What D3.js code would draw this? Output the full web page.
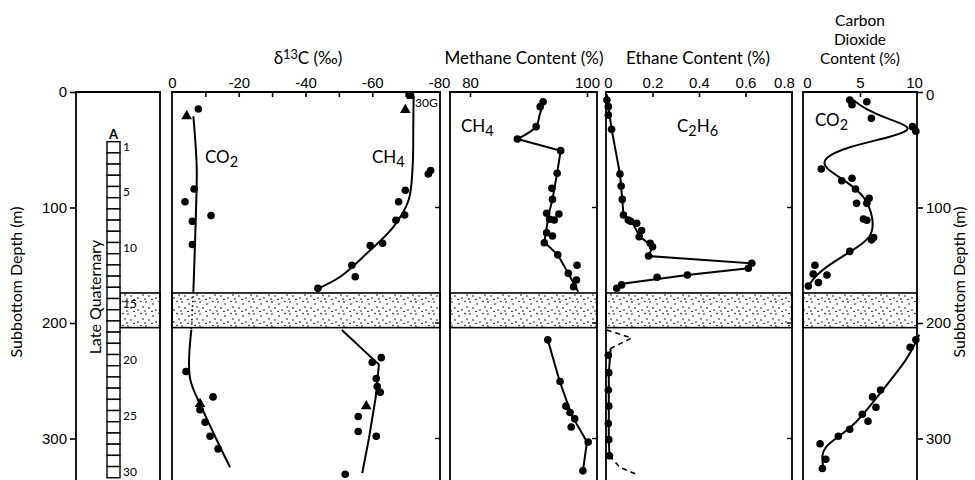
<!DOCTYPE html>
<html lang="en">
<head>
<meta charset="UTF-8">
<title>Subbottom gas profiles</title>
<style>
  body { margin: 0; background: #fff; }
  svg { font-family: "Lato", "DejaVu Sans", sans-serif; }
  .axis path, .axis line { stroke: #000; stroke-width: 1.6; }
  .axis text { font-size: 15px; fill: #000; }
</style>
</head>
<body>
<svg width="975" height="480"></svg>
<script src="https://d3js.org/d3.v7.min.js"></script>
<script>
// ---- data: [depth m, value] ----
// delta 13C of CO2 (permil)
var d13co2Dots = [[14.7,-7.9],[84,-6.6],[95,-3.9],[107,-11.7],[112,-6.1],[132,-6.1],
                  [242,-4.2],[264,-12.3],[275,-8.4],[286,-9.9],[298,-11.4],[309,-13.8]];
var d13co2Tri = [[20.8,-4.4],[270,-8.4]];
var d13co2Upper = [[21,-6.4],[65,-7.4],[102,-7.2],[173,-6.4]];
var d13co2Gap = [[173,-6.4],[206,-5.8]];
var d13co2Lower = [[206,-5.8],[248,-5.4],[275,-9.2],[300,-13.2],[325,-17.4]];
// delta 13C of CH4 (permil)
var d13ch4Dots = [[68,-77.5],[71,-76.8],[85,-69.9],[95,-67.9],[106.5,-69.7],[111,-67.1],
                  [131,-63.1],[133,-59.4],[150,-53.9],[160,-54.9],[170,-43.7],
                  [230,-62.7],[234,-60],[248,-61.2],[255,-61.5],[260,-62.4],[281,-55.8],
                  [294,-55.8],[298,-61.2],[331,-51.9]];
var d13ch4Tri = [[15.6,-69.9],[272,-58.2]];
var d13ch4Square = [[2.6,-71.4]];
var d13ch4Upper = [[3,-72.4],[30,-72.3],[64.6,-72.1],[93.5,-70.9],[116.6,-66.4],[139.7,-58.4],[160,-50.4],[170,-43.9]];
var d13ch4Lower = [[206,-50.9],[236,-62],[265,-61],[300,-59],[330,-57]];
// methane content (%)
var ch4Dots = [[8.4,92.5],[12.7,92],[30,91.3],[40.7,88.1],[50.8,95.5],[70.4,94.9],[83.4,94],
               [93,94.1],[105,93.1],[105.6,95.2],[110.8,94.4],[110.2,93.6],[121.8,93.1],
               [124.7,94.1],[130.5,92.7],[141,95],[150,98.3],[157,96.8],[162.8,98.2],[168.6,97.7],
               [214.6,93.3],[250.6,95.4],[272,96.4],[277.5,97.1],[283,97.9],[290,97.3],[303,100.2],[328,99.3]];
var ch4Upper = [[8,92.6],[20,91.9],[30,91.3],[40.7,88.1],[50.8,95.5],[70,94.9],[93,94.1],[105,93.5],
                [130,92.7],[141,95],[157,96.8],[173,98.5]];
var ch4Lower = [[214.6,93.3],[250,95.3],[280,97.4],[303,100],[328,99.3]];
// ethane content (%)
var c2h6Dots = [[7,0.004],[12.7,0.01],[20,0.01],[32.3,0.024],[71,0.06],[81.4,0.065],[93,0.07],
                [106.5,0.075],[110.8,0.096],[112,0.106],[113.7,0.132],[120,0.153],[125.3,0.143],
                [131,0.19],[134,0.2],[142,0.183],[148.3,0.627],[152.6,0.612],[158.4,0.35],
                [160.4,0.22],[167,0.067],[170,0.046],
                [228,0.01],[243,0.012],[258,0.01],[272,0.012],[287,0.01],[301,0.012],[315,0.015]];
var c2h6Upper = [[2,0.003],[10,0.008],[32,0.024],[71,0.06],[93,0.07],[106,0.075],[112,0.11],
                 [125,0.145],[134,0.2],[142,0.183],[148.3,0.625],[152.6,0.612],[158.4,0.35],
                 [166,0.07],[170,0.04]];
var c2h6DashTop = [[206,0.003],[213,0.11],[222,0.02]];
var c2h6Lower = [[222,0.02],[243,0.012],[272,0.012],[301,0.012],[315,0.015]];
var c2h6DashBottom = [[315,0.015],[325,0.06],[331,0.13]];
// carbon dioxide content (%)
var co2Dots = [[7,4.1],[11,4.3],[8.4,5.6],[22.8,6.0],[30,9.6],[34,9.9],[66.7,1.6],[76.8,3.4],
               [74.7,4.3],[84,4.6],[92,5.8],[96.4,4.7],[96.4,5.6],[110,5.3],[111,5.6],[126,6.2],
               [128,6.0],[138,4.1],[150,1.05],[157.6,0.9],[158.4,2.1],[165,1.35],[168,0.47],
               [214.6,9.9],[221,9.4],[258,6.8],[264,6.1],[273,6.4],[279,5.2],[285,5.7],[292,4.1],
               [298,3.1],[304.5,1.5],[318,2.0],[326,1.7]];
var co2Upper = [[6,4.3],[14,5.3],[24,7.6],[31,9.8],[38,8.2],[48,3.6],[58,1.7],[66,1.9],[76,3.6],
                [90,5.5],[110,6.2],[126,6.1],[138,4.2],[150,2.2],[160,1.0],[169,0.4]];
var co2Lower = [[210,10.2],[230,9.3],[260,6.8],[290,4.5],[305,2.0],[315,1.6],[326,1.8]];

// core sections and stippled band
var coreSections = d3.range(1, 31);
var coreLabels = [1, 5, 10, 15, 20, 25, 30];
var coreTop = 43, coreLen = 9.7;
var band = [174, 204];

// axis ticks
var depthTicks = [0, 100, 200, 300];
var d13Ticks = [0, -10, -20, -30, -40, -50, -60, -70, -80];
var d13Labels = [0, -20, -40, -60, -80];
var ch4Ticks = [80, 100];
var c2h6Ticks = [0, 0.2, 0.4, 0.6, 0.8];
var co2Ticks = [0, 5, 10];

// ---- layout ----
var svg = d3.select('svg');
var top0 = 92, bottom = 482;
var y = d3.scaleLinear().domain([0, 300]).range([top0, 438.5]);

var panels = {
  core: { x0: 76, x1: 160 },
  d13:  { x0: 172, x1: 440, scale: d3.scaleLinear().domain([0, -80]).range([172, 439]) },
  ch4:  { x0: 450, x1: 597, scale: d3.scaleLinear().domain([80, 100]).range([470, 587]) },
  c2h6: { x0: 606, x1: 792, scale: d3.scaleLinear().domain([0, 0.8]).range([606, 792]) },
  co2:  { x0: 803, x1: 917, scale: d3.scaleLinear().domain([0, 10]).range([803, 917]) }
};

// stipple pattern
var defs = svg.append('defs');
var pat = defs.append('pattern').attr('id', 'stip').attr('patternUnits', 'userSpaceOnUse')
  .attr('width', 18).attr('height', 12);
[[2,2],[9,4],[15,1.5],[5,8],[12,10],[17,7],[1,11],[8,11.5]].forEach(function(p) {
  pat.append('circle').attr('cx', p[0]).attr('cy', p[1]).attr('r', 0.8).attr('fill', '#000');
});

// panel boxes + band
Object.keys(panels).forEach(function(k) {
  var p = panels[k];
  var bx0 = k === 'core' ? 120 : p.x0;
  svg.append('rect').attr('x', bx0).attr('y', y(band[0]))
    .attr('width', p.x1 - bx0).attr('height', y(band[1]) - y(band[0]))
    .attr('fill', 'url(#stip)').attr('stroke', '#000').attr('stroke-width', 1.6);
  svg.append('path')
    .attr('d', 'M' + p.x0 + ',' + bottom + 'V' + top0 + 'H' + p.x1 + 'V' + bottom)
    .attr('fill', 'none').attr('stroke', '#000').attr('stroke-width', 1.8);
  if (k !== 'core' && k !== 'co2') {
    depthTicks.slice(1).forEach(function(t) {
      svg.append('line').attr('x1', p.x1 - 5).attr('x2', p.x1)
        .attr('y1', y(t)).attr('y2', y(t)).attr('stroke', '#000').attr('stroke-width', 1.4);
    });
  }
});

// depth axes
svg.append('g').attr('class', 'axis').attr('transform', 'translate(76,0)')
  .call(d3.axisLeft(y).tickValues(depthTicks).tickSize(6).tickPadding(3))
  .call(function(g) { g.select('.domain').remove(); });
svg.append('g').attr('class', 'axis').attr('transform', 'translate(917,0)')
  .call(d3.axisRight(y).tickValues(depthTicks).tickSize(6).tickPadding(3))
  .call(function(g) { g.select('.domain').remove(); g.select('.tick text').attr('dy', '0.5em'); });

// top axes
function topAxis(p, ticks, fmt) {
  return svg.append('g').attr('class', 'axis').attr('transform', 'translate(0,' + top0 + ')')
    .call(d3.axisTop(p.scale).tickValues(ticks).tickSize(-5).tickPadding(4).tickFormat(fmt))
    .call(function(g) { g.select('.domain').remove(); });
}
topAxis(panels.d13, d13Ticks, function(d) { return d13Labels.indexOf(d) >= 0 ? (d === 0 ? '0' : '-' + (-d)) : ''; })
  .selectAll('.tick line').filter(function(d) { return d === 0 || d === -80; }).remove();
topAxis(panels.ch4, ch4Ticks, d3.format('d'));
var ea = topAxis(panels.c2h6, c2h6Ticks, function(d) { return d === 0 ? '0' : String(d); });
ea.selectAll('.tick line').filter(function(d) { return d === 0 || d === 0.8; }).remove();
ea.selectAll('.tick text').filter(function(d) { return d === 0; }).attr('x', 2);
ea.selectAll('.tick text').filter(function(d) { return d === 0.8; }).attr('x', -8);
var ca = topAxis(panels.co2, co2Ticks, d3.format('d'));
ca.selectAll('.tick line').filter(function(d) { return d !== 5; }).remove();
ca.selectAll('.tick text').filter(function(d) { return d === 0; }).attr('x', 4);
ca.selectAll('.tick text').filter(function(d) { return d === 10; }).attr('x', -3);

// titles
var tsz = 17;
function label(x, yy, txt, opts) {
  opts = opts || {};
  var t = svg.append('text').attr('x', x).attr('y', yy).attr('font-size', opts.size || tsz)
    .attr('text-anchor', opts.anchor || 'middle').attr('fill', '#000');
  if (opts.rotate) t.attr('transform', 'rotate(-90,' + x + ',' + yy + ')');
  if (typeof txt === 'string') { t.text(txt); return t; }
  txt.forEach(function(s) {
    var ts = t.append('tspan').text(s[0]);
    if (s[1] === 'sub') ts.attr('baseline-shift', '-30%').attr('font-size', (opts.size || tsz) * 0.85);
    if (s[1] === 'sup') ts.attr('baseline-shift', '40%').attr('font-size', (opts.size || tsz) * 0.75);
  });
  return t;
}
label(308, 64, [['δ'], ['13', 'sup'], ['C (‰)']]);
label(524, 64, 'Methane Content (%)');
label(698, 64, 'Ethane Content (%)');
label(860, 26, 'Carbon', { size: 15.5 });
label(860, 45, 'Dioxide', { size: 15.5 });
label(860, 64, 'Content (%)', { size: 15.5 });
label(22, 282, 'Subbottom Depth (m)', { rotate: true, size: 16 });
label(965, 282, 'Subbottom Depth (m)', { rotate: true, size: 16 });
label(101, 297, 'Late Quaternary', { rotate: true, size: 16 });

// in-panel labels
label(205, 163, [['CO'], ['2', 'sub']], { anchor: 'start' });
label(372, 163, [['CH'], ['4', 'sub']], { anchor: 'start' });
label(461, 132, [['CH'], ['4', 'sub']], { anchor: 'start' });
label(677, 132, [['C'], ['2', 'sub'], ['H'], ['6', 'sub']], { anchor: 'start' });
label(815, 126, [['CO'], ['2', 'sub']], { anchor: 'start' });
label(415, 107, '30G', { anchor: 'start', size: 12 });

// core column
var cx0 = 107, cx1 = 120;
svg.append('g').selectAll('rect').data(coreSections).join('rect')
  .attr('x', cx0).attr('width', cx1 - cx0)
  .attr('y', function(d) { return y(coreTop + (d - 1) * coreLen); })
  .attr('height', y(coreLen) - y(0))
  .attr('fill', '#fff').attr('stroke', '#000').attr('stroke-width', 1.4);
svg.append('g').selectAll('text').data(coreLabels).join('text')
  .attr('x', cx1 + 3)
  .attr('y', function(d) { return y(coreTop + (d - 0.5) * coreLen) + 4; })
  .attr('font-size', 12).text(function(d) { return d; });
label((cx0 + cx1) / 2, y(coreTop) - 3, 'A', { size: 13 }).attr('font-weight', 'bold');

// marks
function line(p, data, opts) {
  opts = opts || {};
  var gen = d3.line().x(function(d) { return p.scale(d[1]); }).y(function(d) { return y(d[0]); })
    .curve(opts.curve || d3.curveLinear);
  svg.append('path').attr('d', gen(data)).attr('fill', 'none').attr('stroke', '#000')
    .attr('stroke-width', opts.w || 2).attr('stroke-dasharray', opts.dash || null);
}
function dots(p, data) {
  svg.append('g').selectAll('circle').data(data).join('circle')
    .attr('cx', function(d) { return p.scale(d[1]); }).attr('cy', function(d) { return y(d[0]); })
    .attr('r', 3.8).attr('fill', '#000');
}
function syms(p, data, type, size) {
  svg.append('g').selectAll('path').data(data).join('path')
    .attr('d', d3.symbol().type(type).size(size))
    .attr('transform', function(d) { return 'translate(' + p.scale(d[1]) + ',' + y(d[0]) + ')'; })
    .attr('fill', '#000');
}

var P = panels;
line(P.d13, d13co2Upper, { curve: d3.curveCatmullRom });
line(P.d13, d13co2Gap, { dash: '1.5,3', w: 1.6 });
line(P.d13, d13co2Lower, { curve: d3.curveCatmullRom });
dots(P.d13, d13co2Dots);
syms(P.d13, d13co2Tri, d3.symbolTriangle, 50);
line(P.d13, d13ch4Upper, { curve: d3.curveCatmullRom });
line(P.d13, d13ch4Lower);
dots(P.d13, d13ch4Dots);
syms(P.d13, d13ch4Tri, d3.symbolTriangle, 50);
syms(P.d13, d13ch4Square, d3.symbolSquare, 60);

line(P.ch4, ch4Upper.slice(0, 4), { curve: d3.curveCatmullRom });
line(P.ch4, ch4Upper.slice(3));
line(P.ch4, ch4Lower);
dots(P.ch4, ch4Dots);

line(P.c2h6, c2h6Upper);
line(P.c2h6, c2h6DashTop, { dash: '5,4', w: 1.6 });
line(P.c2h6, c2h6Lower);
line(P.c2h6, c2h6DashBottom, { dash: '5,4', w: 1.6 });
dots(P.c2h6, c2h6Dots);

line(P.co2, co2Upper, { curve: d3.curveBasis });
line(P.co2, co2Lower, { curve: d3.curveBasis });
dots(P.co2, co2Dots);
</script>
</body>
</html>
